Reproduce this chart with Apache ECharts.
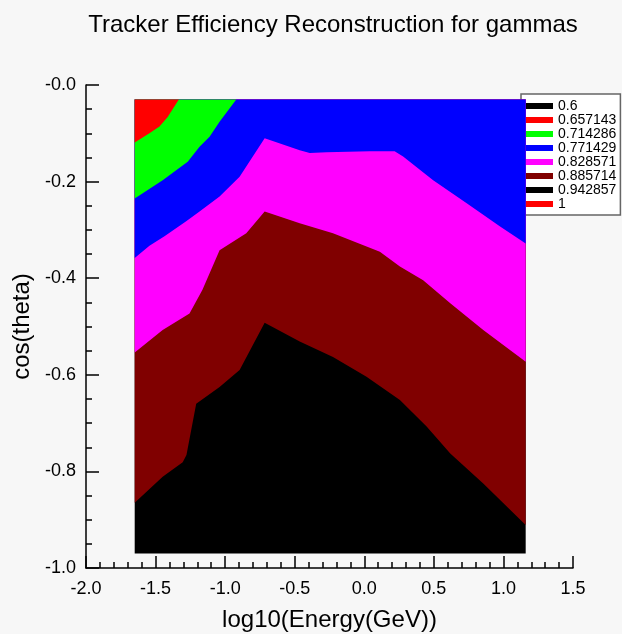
<!DOCTYPE html>
<html>
<head>
<meta charset="utf-8">
<script src="https://cdn.jsdelivr.net/npm/echarts@6/dist/echarts.min.js"></script>
<style>
  html, body { margin: 0; padding: 0; background: #f7f7f7; }
  #chart { width: 622px; height: 634px; }
</style>
</head>
<body>
<div id="chart"></div>
<script>
// contour levels (legend) and the drawn range of the histogram
var levels = ['0.6', '0.657143', '0.714286', '0.771429', '0.828571', '0.885714', '0.942857', '1'];
var xRange = [-1.65, 1.16];
var yRange = [-0.97, -0.03];

// contour boundaries [log10(E), cos(theta)], left to right
var bRedGreen = [[-1.65, -0.119], [-1.544, -0.100], [-1.472, -0.086], [-1.413, -0.066], [-1.333, -0.03]];
var bGreenBlue = [[-1.65, -0.235], [-1.449, -0.197], [-1.269, -0.159], [-1.184, -0.128], [-1.112, -0.107],
    [-1.040, -0.076], [-0.920, -0.03]];
var bBlueMagenta = [[-1.65, -0.358], [-1.544, -0.333], [-1.436, -0.313], [-1.280, -0.282], [-1.184, -0.262],
    [-1.040, -0.231], [-0.896, -0.190], [-0.716, -0.110], [-0.464, -0.135], [-0.392, -0.141], [-0.272, -0.139],
    [0.038, -0.137], [0.218, -0.137], [0.279, -0.148], [0.495, -0.197], [0.736, -0.245], [0.976, -0.293],
    [1.16, -0.328]];
var bMagentaDark = [[-1.65, -0.554], [-1.449, -0.507], [-1.256, -0.473], [-1.163, -0.424], [-1.040, -0.342],
    [-0.848, -0.307], [-0.716, -0.262], [-0.464, -0.286], [-0.225, -0.307], [0.112, -0.345], [0.256, -0.376],
    [0.423, -0.404], [0.618, -0.452], [0.855, -0.507], [1.16, -0.573]];
var bDarkBlack = [[-1.65, -0.865], [-1.449, -0.811], [-1.305, -0.781], [-1.278, -0.766], [-1.208, -0.660],
    [-1.040, -0.625], [-0.896, -0.590], [-0.716, -0.492], [-0.464, -0.531], [-0.225, -0.563], [0.016, -0.604],
    [0.256, -0.652], [0.448, -0.707], [0.618, -0.763], [0.855, -0.825], [1.16, -0.911]];

var levelColors = ['#000000', '#ff0000', '#00ff00', '#0000ff', '#ff00ff', '#800000', '#000000', '#ff0000'];
var font = "'Liberation Sans', Arial, Helvetica, sans-serif";

// region above a boundary line, closed along the top (and right) edge
function above(b) {
    var pts = b.slice();
    var last = b[b.length - 1];
    if (last[0] >= xRange[1]) pts.push([xRange[1], yRange[1]]);
    pts.push([xRange[0], yRange[1]]);
    return pts;
}
var fullRect = [[xRange[0], yRange[0]], [xRange[1], yRange[0]], [xRange[1], yRange[1]], [xRange[0], yRange[1]]];

var regions = [null, above(bRedGreen), above(bGreenBlue), above(bBlueMagenta),
    above(bMagentaDark), above(bDarkBlack), fullRect, null];

var myChart = echarts.init(document.getElementById('chart'));

var series = levels.map(function(name, i) {
    var poly = regions[i] || [];
    var color = levelColors[i];
    return {
        name: name,
        type: 'custom',
        z: 10 - i,
        silent: true,
        animation: false,
        itemStyle: { color: color },
        data: poly,
        renderItem: function(params, api) {
            if (params.dataIndex !== 0) return null;
            var pts = poly.map(function(p) { return api.coord(p); });
            return { type: 'polygon', shape: { points: pts }, style: { fill: color } };
        }
    };
});

var option = {
    backgroundColor: '#f7f7f7',
    animation: false,
    title: {
        text: 'Tracker Efficiency Reconstruction for gammas',
        left: 333,
        textAlign: 'center',
        top: 13,
        padding: 0,
        textStyle: { fontFamily: font, fontSize: 24, fontWeight: 'normal', color: '#000' }
    },
    legend: {
        data: levels,
        orient: 'vertical',
        left: 521,
        top: 94,
        padding: [5, 4, 4, 4],
        itemGap: 0,
        itemWidth: 28,
        itemHeight: 6,
        icon: 'rect',
        selectedMode: false,
        backgroundColor: '#ffffff',
        borderColor: '#666',
        borderWidth: 1.5,
        textStyle: { fontFamily: font, fontSize: 14, lineHeight: 14, color: '#000' }
    },
    grid: { left: 86, right: 49, top: 85, bottom: 66, outerBoundsMode: 'none' },
    xAxis: {
        type: 'value',
        min: -2,
        max: 1.5,
        interval: 0.5,
        name: 'log10(Energy(GeV))',
        nameLocation: 'middle',
        nameGap: 40,
        nameTextStyle: { fontFamily: font, fontSize: 24, color: '#000' },
        axisLine: { show: true, onZero: false, lineStyle: { color: '#000', width: 1.5 } },
        axisTick: { show: true, inside: true, length: 12, lineStyle: { color: '#000', width: 1.5 } },
        minorTick: { show: true, splitNumber: 5, length: 6, lineStyle: { color: '#000', width: 1.5 } },
        splitLine: { show: false },
        axisLabel: {
            fontFamily: font, fontSize: 18, color: '#000', margin: 12,
            formatter: function(v) { return v.toFixed(1); }
        }
    },
    yAxis: {
        type: 'value',
        min: -1,
        max: 0,
        interval: 0.2,
        name: 'cos(theta)',
        nameLocation: 'middle',
        nameGap: 50,
        nameTextStyle: { fontFamily: font, fontSize: 24, color: '#000' },
        axisLine: { show: true, onZero: false, lineStyle: { color: '#000', width: 1.5 } },
        axisTick: { show: true, inside: true, length: 13, lineStyle: { color: '#000', width: 1.5 } },
        minorTick: { show: true, splitNumber: 4, length: 6, lineStyle: { color: '#000', width: 1.5 } },
        splitLine: { show: false },
        axisLabel: {
            fontFamily: font, fontSize: 18, color: '#000', margin: 10,
            formatter: function(v) { return '-' + Math.abs(v).toFixed(1); }
        }
    },
    series: series
};
myChart.setOption(option);
</script>
</body>
</html>
